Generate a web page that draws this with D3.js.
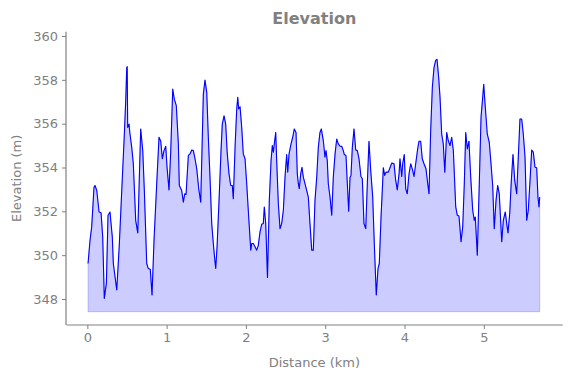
<!DOCTYPE html>
<html>
<head>
<meta charset="utf-8">
<script src="https://cdn.jsdelivr.net/npm/d3@7"></script>
<style>
  body { margin: 0; background: #fff; }
  text { font-family: "DejaVu Sans", sans-serif; fill: #808080; }
</style>
</head>
<body>
<div id="chart"></div>
<script>
// distance along the track (km)
var distance = [
  0.009, 0.034, 0.055, 0.084, 0.097, 0.119, 0.148, 0.173, 0.194, 0.214,
  0.240, 0.261, 0.286, 0.315, 0.328, 0.371, 0.404, 0.434, 0.467, 0.484,
  0.497, 0.503, 0.509, 0.526, 0.538, 0.560, 0.580, 0.610, 0.636, 0.656,
  0.673, 0.699, 0.719, 0.749, 0.769, 0.794, 0.816, 0.841, 0.875, 0.904,
  0.926, 0.946, 0.967, 0.989, 1.005, 1.030, 1.052, 1.077, 1.097, 1.122,
  1.148, 1.160, 1.190, 1.211, 1.228, 1.245, 1.274, 1.295, 1.317, 1.337,
  1.358, 1.380, 1.405, 1.430, 1.446, 1.463, 1.484, 1.506, 1.526, 1.547,
  1.569, 1.589, 1.602, 1.619, 1.636, 1.661, 1.686, 1.702, 1.724, 1.745,
  1.765, 1.787, 1.808, 1.828, 1.841, 1.863, 1.884, 1.897, 1.909, 1.926,
  1.947, 1.967, 1.989, 2.010, 2.035, 2.061, 2.073, 2.093, 2.115, 2.136,
  2.156, 2.178, 2.199, 2.219, 2.232, 2.250, 2.272, 2.295, 2.317, 2.333,
  2.346, 2.358, 2.376, 2.388, 2.409, 2.430, 2.451, 2.472, 2.493, 2.514,
  2.527, 2.544, 2.569, 2.590, 2.610, 2.632, 2.648, 2.661, 2.673, 2.691,
  2.707, 2.724, 2.745, 2.767, 2.787, 2.808, 2.830, 2.850, 2.871, 2.893,
  2.913, 2.934, 2.951, 2.976, 2.997, 3.010, 3.026, 3.039, 3.061, 3.082,
  3.102, 3.124, 3.145, 3.165, 3.187, 3.208, 3.228, 3.241, 3.262, 3.279,
  3.296, 3.313, 3.325, 3.342, 3.363, 3.385, 3.405, 3.426, 3.451, 3.468,
  3.489, 3.511, 3.531, 3.552, 3.574, 3.599, 3.619, 3.644, 3.666, 3.682,
  3.704, 3.733, 3.750, 3.767, 3.796, 3.817, 3.839, 3.868, 3.889, 3.909,
  3.931, 3.943, 3.965, 3.977, 3.997, 4.015, 4.035, 4.057, 4.078, 4.098,
  4.120, 4.141, 4.166, 4.183, 4.204, 4.224, 4.246, 4.271, 4.293, 4.309,
  4.330, 4.351, 4.372, 4.393, 4.410, 4.431, 4.448, 4.469, 4.489, 4.508,
  4.532, 4.552, 4.574, 4.595, 4.616, 4.646, 4.666, 4.687, 4.713, 4.734,
  4.754, 4.772, 4.792, 4.813, 4.835, 4.860, 4.880, 4.893, 4.918, 4.943,
  4.965, 4.986, 4.999, 5.019, 5.044, 5.069, 5.091, 5.112, 5.132, 5.154,
  5.175, 5.195, 5.226, 5.246, 5.271, 5.289, 5.305, 5.327, 5.347, 5.368,
  5.390, 5.415, 5.435, 5.456, 5.478, 5.498, 5.520, 5.541, 5.561, 5.583,
  5.604, 5.624, 5.646, 5.667, 5.683, 5.696, 5.705
];

// elevation (m)
var elevation = [
  349.62, 350.68, 351.29, 353.10, 353.18, 352.95, 351.97, 351.94, 350.83, 348.03,
  348.71, 351.82, 351.97, 350.83, 349.62, 348.41, 350.53, 352.95, 355.53, 357.05,
  358.56, 358.60, 355.83, 355.98, 355.53, 354.92, 354.17, 351.59, 351.01, 353.56,
  355.76, 354.77, 352.95, 349.62, 349.39, 349.36, 348.18, 350.68, 353.26, 355.38,
  355.20, 354.40, 354.77, 354.97, 354.02, 352.98, 354.77, 357.58, 357.12, 356.82,
  355.08, 353.18, 352.95, 352.42, 352.80, 352.77, 354.55, 354.62, 354.80, 354.77,
  354.40, 353.94, 353.03, 352.42, 354.77, 357.35, 357.99, 357.43, 355.38, 353.56,
  351.44, 350.53, 350.00, 349.39, 350.38, 352.50, 354.77, 355.98, 356.36, 355.98,
  354.62, 353.71, 353.18, 353.18, 352.58, 354.92, 356.67, 357.20, 356.67, 356.77,
  355.83, 354.62, 354.40, 353.26, 351.74, 350.23, 350.53, 350.53, 350.38, 350.23,
  350.45, 351.06, 351.41, 351.44, 352.20, 351.44, 348.98, 352.50, 354.32, 355.00,
  354.70, 355.08, 355.60, 354.32, 352.35, 351.21, 351.44, 352.05, 353.56, 354.59,
  353.79, 354.62, 355.08, 355.38, 355.76, 355.60, 353.71, 353.26, 353.03, 353.71,
  354.01, 353.56, 353.26, 352.95, 352.65, 351.44, 350.23, 350.23, 352.50, 353.56,
  354.92, 355.60, 355.76, 355.23, 354.47, 354.77, 354.32, 353.26, 352.65, 351.82,
  353.56, 354.62, 355.30, 355.08, 354.97, 354.97, 354.77, 354.59, 354.55, 353.26,
  352.01, 353.56, 353.64, 354.92, 355.76, 354.80, 354.77, 354.40, 353.59, 353.49,
  351.44, 351.21, 353.26, 355.20, 353.86, 352.65, 350.53, 348.18, 349.39, 349.62,
  351.74, 353.99, 353.64, 353.79, 353.79, 353.99, 354.20, 354.17, 353.41, 352.98,
  353.71, 354.40, 353.59, 354.17, 354.59, 353.03, 352.80, 353.71, 354.17, 353.94,
  353.59, 354.17, 354.85, 355.20, 355.20, 354.40, 354.17, 353.94, 353.26, 352.80,
  355.68, 357.65, 358.56, 358.89, 358.94, 358.10, 357.20, 355.53, 355.08, 353.79,
  355.60, 355.23, 355.00, 355.38, 354.77, 352.20, 351.82, 351.79, 350.61, 351.29,
  353.26, 355.60, 354.85, 355.20, 353.56, 352.05, 351.59, 351.74, 350.00, 353.26,
  356.29, 357.20, 357.80, 356.74, 355.53, 355.15, 354.17, 353.18, 351.21, 352.50,
  353.18, 352.80, 350.61, 351.59, 351.97, 351.44, 351.01, 351.90, 353.41, 354.59,
  353.41, 352.80, 354.47, 356.21, 356.21, 355.53, 354.47, 351.59, 352.05, 353.41,
  354.80, 354.70, 354.01, 353.99, 352.65, 352.20, 352.65
];

var xTicks = [0, 1, 2, 3, 4, 5];
var yTicks = [348, 350, 352, 354, 356, 358, 360];
var fillBase = 347.42;

var width = 571, height = 378;
var margin = { top: 31.7, right: 8.3, bottom: 53, left: 66 };
var innerW = width - margin.left - margin.right;
var innerH = height - margin.top - margin.bottom;

var svg = d3.select("#chart").append("svg")
    .attr("width", width)
    .attr("height", height);

var g = svg.append("g")
    .attr("transform", "translate(" + margin.left + "," + margin.top + ")");

var x = d3.scaleLinear()
    .domain([-0.269, 5.995])
    .range([0, innerW]);

var y = d3.scaleLinear()
    .domain([346.814, 360.196])
    .range([innerH, 0]);

var data = distance.map(function(d, i){ return { d: d, e: elevation[i] }; });

// filled profile
var area = d3.area()
    .x(function(p){ return x(p.d); })
    .y0(y(fillBase))
    .y1(function(p){ return y(p.e); });

g.append("path")
    .datum(data)
    .attr("d", area)
    .attr("fill", "#0000ff")
    .attr("fill-opacity", 0.2)
    .attr("stroke", "#0000ff")
    .attr("stroke-opacity", 0.2)
    .attr("stroke-width", 1);

var line = d3.line()
    .x(function(p){ return x(p.d); })
    .y(function(p){ return y(p.e); });

g.append("path")
    .datum(data)
    .attr("d", line)
    .attr("fill", "none")
    .attr("stroke", "#0000ff")
    .attr("stroke-width", 1.1)
    .attr("stroke-linejoin", "round");

// axes
var xAxis = d3.axisBottom(x).tickValues(xTicks).tickSize(4).tickPadding(4).tickFormat(d3.format("d"));
var yAxis = d3.axisLeft(y).tickValues(yTicks).tickSize(4).tickPadding(4).tickFormat(d3.format("d"));

var gx = g.append("g")
    .attr("transform", "translate(0," + innerH + ")")
    .call(xAxis);
var gy = g.append("g").call(yAxis);

[gx, gy].forEach(function(ax){
    ax.select(".domain").attr("stroke", "#808080").attr("stroke-width", 1.2);
    ax.selectAll(".tick line").attr("stroke", "#808080").attr("stroke-width", 1);
    ax.selectAll(".tick text")
        .attr("fill", "#808080")
        .style("font-size", "13px")
        .style("font-family", "DejaVu Sans, sans-serif");
});
// matplotlib-style spines: no end caps
gx.select(".domain").attr("d", "M0.5,0H" + innerW);
gy.select(".domain").attr("d", "M0,0V" + innerH);

// labels
svg.append("text")
    .attr("x", margin.left + innerW / 2)
    .attr("y", 24)
    .attr("text-anchor", "middle")
    .style("font-size", "16px")
    .style("font-weight", "bold")
    .text("Elevation");

svg.append("text")
    .attr("x", margin.left + innerW / 2)
    .attr("y", 367)
    .attr("text-anchor", "middle")
    .style("font-size", "13px")
    .text("Distance (km)");

svg.append("text")
    .attr("transform", "translate(21," + (margin.top + innerH / 2) + ") rotate(-90)")
    .attr("text-anchor", "middle")
    .style("font-size", "13px")
    .text("Elevation (m)");
</script>
</body>
</html>
